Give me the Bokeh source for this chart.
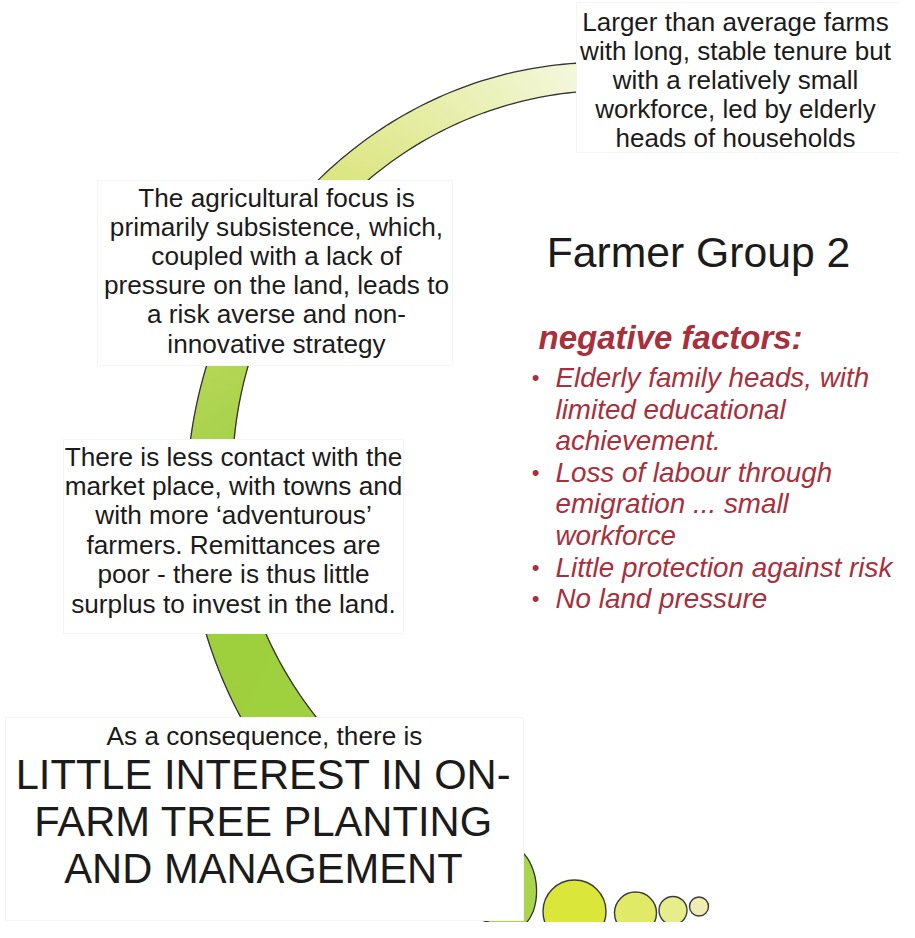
import numpy as np
from bokeh.plotting import figure
from bokeh.models import Range1d
from bokeh.core.properties import value
from bokeh.embed import file_html
from bokeh.resources import INLINE

# ---------------- content ----------------
box1_lines = ["Larger than average farms", "with long, stable tenure but",
              "with a relatively small", "workforce, led by elderly",
              "heads of households"]
box2_lines = ["The agricultural focus is", "primarily subsistence, which,",
              "coupled with a lack of", "pressure on the land, leads to",
              "a risk averse and non-", "innovative strategy"]
box3_lines = ["There is less contact with the", "market place, with towns and",
              "with more \u2018adventurous\u2019", "farmers. Remittances are",
              "poor - there is thus little", "surplus to invest in the land."]
lead_line = ["As a consequence, there is"]
conclusion_lines = ["LITTLE INTEREST IN ON-", "FARM TREE PLANTING", "AND MANAGEMENT"]
group_title = ["Farmer Group 2"]
factors_heading = ["negative factors:"]
factor_lines = ["Elderly family heads, with", "limited educational", "achievement.",
                "Loss of labour through", "emigration ... small", "workforce",
                "Little protection against risk", "No land pressure"]
factor_bullet = [True, False, False, True, False, False, True, True]

# decorative bubbles (largest to smallest)
bubble_r = [31.5, 21, 14, 9.5]
bubble_colors = ["#dbe63a", "#e1ea66", "#e8ed8c", "#efecb4"]

# arc colour stops along the sweep (degrees, colour)
arc_stop_t = [80, 95, 115, 135, 155, 172, 200, 240, 258]
arc_stop_c = ["#f8fae8", "#f3f7da", "#e7eeaa", "#d9e47a", "#bdda5a",
              "#abd34e", "#9ecf3c", "#a1d142", "#a8d44e"]

# ---------------- layout ----------------
W, H = 899, 922
p = figure(width=W, height=H, x_range=Range1d(0, W), y_range=Range1d(H, 0),
           output_backend="svg", toolbar_location=None, min_border=0,
           x_axis_location=None, y_axis_location=None)
p.grid.visible = False
p.outline_line_color = None
p.background_fill_color = "white"
p.border_fill_color = "white"

FONT = value("Liberation Sans")
INK = "#1b1b1b"
RED = "#a8303d"


def hex2rgb(h):
    return np.array([int(h[i:i + 2], 16) for i in (1, 3, 5)], dtype=float)


def rgb2hex(c):
    return "#%02x%02x%02x" % tuple(int(round(v)) for v in c)


# ---------------- arc band ----------------
OCX, OCY, OA, OB = 600.0, 500.0, 414.0, 438.0
ICX, ICY, IA, IB = 610.0, 475.0, 378.0, 385.0
T0, T1O, T1I = 80.0, 258.0, 254.0
N = 200
t_out = np.linspace(T0, T1O, N + 1)
t_in = np.linspace(T0, T1I, N + 1)
ox = OCX + OA * np.cos(np.radians(t_out))
oy = OCY - OB * np.sin(np.radians(t_out))
ix = ICX + IA * np.cos(np.radians(t_in))
iy = ICY - IB * np.sin(np.radians(t_in))

stops_rgb = np.array([hex2rgb(c) for c in arc_stop_c])
seg_x, seg_y, seg_c = [], [], []
for k in range(N):
    tm = 0.5 * (t_out[k] + t_out[k + 1])
    col = [np.interp(tm, arc_stop_t, stops_rgb[:, j]) for j in range(3)]
    seg_x.append([ox[k], ox[k + 1], ix[k + 1], ix[k]])
    seg_y.append([oy[k], oy[k + 1], iy[k + 1], iy[k]])
    seg_c.append(rgb2hex(col))

# rounded end cap
I = np.array([ix[-1], iy[-1]])
O = np.array([ox[-1], oy[-1]])
M = 0.5 * (I + O)
hv = I - M
nv = np.array([hv[1], -hv[0]])
nv = nv / np.linalg.norm(nv)
if nv[0] < 0:
    nv = -nv
s = np.linspace(np.pi, 0, 40)
cap_x = M[0] + hv[0] * np.cos(s) + nv[0] * 26 * np.sin(s)
cap_y = M[1] + hv[1] * np.cos(s) + nv[1] * 26 * np.sin(s)
seg_x.append(list(cap_x))
seg_y.append(list(cap_y))
seg_c.append(arc_stop_c[-1])

p.patches(seg_x, seg_y, fill_color=seg_c, line_color=seg_c, line_width=1)
edge_x = list(ox) + list(cap_x) + list(ix[::-1])
edge_y = list(oy) + list(cap_y) + list(iy[::-1])
p.line(edge_x, edge_y, line_color="#333333", line_width=1.3)

# ---------------- white text boxes ----------------
box_l = [576, 97, 63, 5]
box_r = [913, 452, 403, 523]
box_t = [2, 180, 439, 717]
box_b = [152, 365, 633, 920]
p.quad(left=box_l, right=box_r, top=box_t, bottom=box_b,
       fill_color="white", line_color="#f5f5f5", line_width=1)


def text_block(lines, x, y0, dy, size, color=INK, style="normal", align="center"):
    ys = [y0 + i * dy for i in range(len(lines))]
    p.text(x=[x] * len(lines), y=ys, text=lines, text_font=FONT,
           text_font_size=value(size), text_align=align, text_baseline="middle",
           text_color=color, text_font_style=style)


text_block(box1_lines, 735, 21, 29.2, "26px")
text_block(box2_lines, 276, 197, 29.2, "26.2px")
text_block(box3_lines, 233, 456, 29.4, "26.2px")
text_block(lead_line, 264, 735, 0, "26.2px")
text_block(conclusion_lines, 263, 774, 46.8, "41.7px")
text_block(group_title, 698, 251, 0, "42.7px")
text_block(factors_heading, 538, 337, 0, "33px", color=RED, style="bold italic", align="left")

fy = [377 + i * 31.6 for i in range(len(factor_lines))]
p.text(x=[555] * len(factor_lines), y=fy, text=factor_lines, text_font=FONT,
       text_font_size=value("27.8px"), text_align="left", text_baseline="middle",
       text_color=RED, text_font_style="italic")
by = [y for y, b in zip(fy, factor_bullet) if b]
p.text(x=[535] * len(by), y=by, text=["\u2022"] * len(by), text_font=FONT,
       text_font_size=value("22px"), text_align="center", text_baseline="middle",
       text_color=RED)

# ---------------- bubbles ----------------
bx = [574, 635, 672.5, 698.5]
byy = [911, 912.5, 910, 906]
p.circle(x=bx, y=byy, radius=bubble_r, fill_color=bubble_colors,
         line_color="#3a3a3a", line_width=1.4)

open("out.html", "w").write(file_html(p, INLINE))
